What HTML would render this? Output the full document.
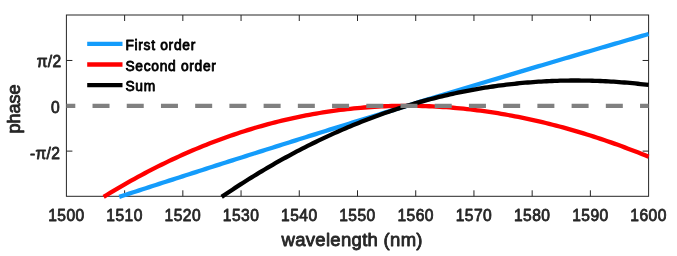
<!DOCTYPE html>
<html><head><meta charset="utf-8"><title>phase vs wavelength</title>
<style>
html,body{margin:0;padding:0;background:#fff;}
svg{display:block;will-change:transform;font-family:"Liberation Sans",sans-serif;font-weight:normal;}
text{stroke-linejoin:round;}
</style></head><body>
<svg width="677" height="256" viewBox="0 0 677 256">
<rect width="677" height="256" fill="#fff"/>
<g fill="none" stroke="#262626" stroke-width="1">
<rect x="66.4" y="15.0" width="582.20" height="181.30"/>
<path d="M124.62,196.3 v-6 M124.62,15.0 v6"/><path d="M182.84,196.3 v-6 M182.84,15.0 v6"/><path d="M241.06,196.3 v-6 M241.06,15.0 v6"/><path d="M299.28,196.3 v-6 M299.28,15.0 v6"/><path d="M357.50,196.3 v-6 M357.50,15.0 v6"/><path d="M415.72,196.3 v-6 M415.72,15.0 v6"/><path d="M473.94,196.3 v-6 M473.94,15.0 v6"/><path d="M532.16,196.3 v-6 M532.16,15.0 v6"/><path d="M590.38,196.3 v-6 M590.38,15.0 v6"/><path d="M66.4,151.12 h6 M648.6,151.12 h-6"/><path d="M66.4,105.80 h6 M648.6,105.80 h-6"/><path d="M66.4,60.47 h6 M648.6,60.47 h-6"/>
</g>
<g fill="none" stroke-width="4.3" stroke-linecap="butt" stroke-linejoin="round">
<path d="M119.23,196.90 L122.56,195.81 L125.89,194.72 L129.22,193.64 L132.55,192.55 L135.88,191.47 L139.21,190.38 L142.54,189.30 L145.87,188.22 L149.20,187.14 L152.53,186.06 L155.86,184.98 L159.19,183.90 L162.52,182.82 L165.85,181.74 L169.17,180.66 L172.50,179.59 L175.83,178.51 L179.16,177.44 L182.49,176.37 L185.82,175.29 L189.15,174.22 L192.48,173.15 L195.81,172.08 L199.14,171.01 L202.47,169.94 L205.80,168.87 L209.13,167.81 L212.46,166.74 L215.79,165.67 L219.11,164.61 L222.44,163.55 L225.77,162.48 L229.10,161.42 L232.43,160.36 L235.76,159.30 L239.09,158.24 L242.42,157.18 L245.75,156.12 L249.08,155.06 L252.41,154.01 L255.74,152.95 L259.07,151.90 L262.40,150.84 L265.73,149.79 L269.05,148.74 L272.38,147.68 L275.71,146.63 L279.04,145.58 L282.37,144.53 L285.70,143.48 L289.03,142.44 L292.36,141.39 L295.69,140.34 L299.02,139.30 L302.35,138.25 L305.68,137.21 L309.01,136.16 L312.34,135.12 L315.67,134.08 L319.00,133.04 L322.32,132.00 L325.65,130.96 L328.98,129.92 L332.31,128.88 L335.64,127.84 L338.97,126.81 L342.30,125.77 L345.63,124.74 L348.96,123.70 L352.29,122.67 L355.62,121.64 L358.95,120.61 L362.28,119.57 L365.61,118.54 L368.94,117.51 L372.26,116.49 L375.59,115.46 L378.92,114.43 L382.25,113.40 L385.58,112.38 L388.91,111.35 L392.24,110.33 L395.57,109.30 L398.90,108.28 L402.23,107.26 L405.56,106.24 L408.89,105.22 L412.22,104.21 L415.55,103.19 L418.88,102.18 L422.20,101.16 L425.53,100.15 L428.86,99.14 L432.19,98.13 L435.52,97.12 L438.85,96.11 L442.18,95.10 L445.51,94.09 L448.84,93.09 L452.17,92.08 L455.50,91.08 L458.83,90.07 L462.16,89.07 L465.49,88.06 L468.82,87.06 L472.14,86.06 L475.47,85.06 L478.80,84.06 L482.13,83.06 L485.46,82.06 L488.79,81.06 L492.12,80.06 L495.45,79.07 L498.78,78.07 L502.11,77.08 L505.44,76.08 L508.77,75.09 L512.10,74.09 L515.43,73.10 L518.76,72.11 L522.08,71.12 L525.41,70.13 L528.74,69.14 L532.07,68.15 L535.40,67.16 L538.73,66.18 L542.06,65.19 L545.39,64.20 L548.72,63.22 L552.05,62.23 L555.38,61.25 L558.71,60.27 L562.04,59.28 L565.37,58.30 L568.70,57.32 L572.03,56.34 L575.35,55.36 L578.68,54.38 L582.01,53.40 L585.34,52.43 L588.67,51.45 L592.00,50.47 L595.33,49.50 L598.66,48.52 L601.99,47.55 L605.32,46.58 L608.65,45.60 L611.98,44.63 L615.31,43.66 L618.64,42.69 L621.97,41.72 L625.29,40.75 L628.62,39.78 L631.95,38.82 L635.28,37.85 L638.61,36.88 L641.94,35.92 L645.27,34.95 L648.60,33.99" stroke="#149cfb"/>
<path d="M103.67,196.90 L107.10,194.78 L110.53,192.69 L113.95,190.63 L117.38,188.59 L120.81,186.58 L124.24,184.60 L127.66,182.64 L131.09,180.71 L134.52,178.80 L137.94,176.92 L141.37,175.06 L144.80,173.24 L148.23,171.43 L151.65,169.66 L155.08,167.91 L158.51,166.18 L161.94,164.48 L165.36,162.81 L168.79,161.16 L172.22,159.53 L175.64,157.94 L179.07,156.36 L182.50,154.82 L185.93,153.30 L189.35,151.80 L192.78,150.33 L196.21,148.88 L199.63,147.46 L203.06,146.06 L206.49,144.69 L209.92,143.34 L213.34,142.02 L216.77,140.72 L220.20,139.45 L223.63,138.20 L227.05,136.98 L230.48,135.78 L233.91,134.60 L237.33,133.45 L240.76,132.33 L244.19,131.22 L247.62,130.15 L251.04,129.09 L254.47,128.06 L257.90,127.06 L261.32,126.07 L264.75,125.12 L268.18,124.18 L271.61,123.27 L275.03,122.39 L278.46,121.52 L281.89,120.69 L285.31,119.87 L288.74,119.08 L292.17,118.31 L295.60,117.57 L299.02,116.84 L302.45,116.15 L305.88,115.47 L309.31,114.82 L312.73,114.19 L316.16,113.59 L319.59,113.00 L323.01,112.45 L326.44,111.91 L329.87,111.40 L333.30,110.91 L336.72,110.44 L340.15,109.99 L343.58,109.57 L347.00,109.17 L350.43,108.80 L353.86,108.44 L357.29,108.11 L360.71,107.80 L364.14,107.51 L367.57,107.25 L371.00,107.01 L374.42,106.79 L377.85,106.59 L381.28,106.41 L384.70,106.26 L388.13,106.13 L391.56,106.02 L394.99,105.93 L398.41,105.87 L401.84,105.82 L405.27,105.80 L408.69,105.80 L412.12,105.82 L415.55,105.87 L418.98,105.93 L422.40,106.02 L425.83,106.13 L429.26,106.25 L432.69,106.40 L436.11,106.58 L439.54,106.77 L442.97,106.98 L446.39,107.22 L449.82,107.47 L453.25,107.75 L456.68,108.05 L460.10,108.37 L463.53,108.71 L466.96,109.07 L470.38,109.45 L473.81,109.85 L477.24,110.27 L480.67,110.71 L484.09,111.18 L487.52,111.66 L490.95,112.17 L494.38,112.69 L497.80,113.24 L501.23,113.81 L504.66,114.39 L508.08,115.00 L511.51,115.62 L514.94,116.27 L518.37,116.94 L521.79,117.63 L525.22,118.33 L528.65,119.06 L532.07,119.81 L535.50,120.58 L538.93,121.36 L542.36,122.17 L545.78,123.00 L549.21,123.84 L552.64,124.71 L556.07,125.59 L559.49,126.50 L562.92,127.42 L566.35,128.37 L569.77,129.33 L573.20,130.31 L576.63,131.32 L580.06,132.34 L583.48,133.38 L586.91,134.44 L590.34,135.52 L593.76,136.62 L597.19,137.74 L600.62,138.87 L604.05,140.03 L607.47,141.20 L610.90,142.40 L614.33,143.61 L617.76,144.84 L621.18,146.09 L624.61,147.36 L628.04,148.65 L631.46,149.95 L634.89,151.28 L638.32,152.62 L641.75,153.98 L645.17,155.36 L648.60,156.76" stroke="#ff0000"/>
<path d="M221.67,196.90 L224.36,195.07 L227.04,193.26 L229.73,191.46 L232.42,189.68 L235.10,187.91 L237.79,186.16 L240.47,184.42 L243.16,182.70 L245.84,180.99 L248.53,179.30 L251.21,177.63 L253.90,175.97 L256.58,174.32 L259.27,172.70 L261.95,171.08 L264.64,169.48 L267.32,167.90 L270.01,166.33 L272.69,164.78 L275.38,163.24 L278.06,161.72 L280.75,160.21 L283.43,158.71 L286.12,157.24 L288.80,155.77 L291.49,154.33 L294.17,152.89 L296.86,151.47 L299.54,150.07 L302.23,148.68 L304.91,147.31 L307.60,145.95 L310.28,144.60 L312.97,143.27 L315.65,141.96 L318.34,140.66 L321.02,139.37 L323.71,138.10 L326.39,136.85 L329.08,135.60 L331.76,134.38 L334.45,133.16 L337.13,131.96 L339.82,130.78 L342.50,129.61 L345.19,128.46 L347.87,127.32 L350.56,126.19 L353.24,125.08 L355.93,123.98 L358.61,122.90 L361.30,121.83 L363.98,120.77 L366.67,119.73 L369.35,118.71 L372.04,117.69 L374.72,116.70 L377.41,115.71 L380.09,114.74 L382.78,113.79 L385.46,112.84 L388.15,111.92 L390.83,111.00 L393.52,110.10 L396.20,109.22 L398.89,108.35 L401.57,107.49 L404.26,106.64 L406.94,105.81 L409.63,105.00 L412.31,104.20 L415.00,103.42 L417.68,102.64 L420.37,101.89 L423.05,101.14 L425.74,100.41 L428.42,99.69 L431.11,98.99 L433.79,98.30 L436.48,97.62 L439.16,96.96 L441.85,96.31 L444.54,95.68 L447.22,95.05 L449.91,94.44 L452.59,93.85 L455.28,93.27 L457.96,92.70 L460.65,92.14 L463.33,91.60 L466.02,91.07 L468.70,90.55 L471.39,90.05 L474.07,89.56 L476.76,89.08 L479.44,88.62 L482.13,88.17 L484.81,87.73 L487.50,87.31 L490.18,86.90 L492.87,86.50 L495.55,86.12 L498.24,85.74 L500.92,85.38 L503.61,85.04 L506.29,84.70 L508.98,84.38 L511.66,84.08 L514.35,83.78 L517.03,83.50 L519.72,83.23 L522.40,82.98 L525.09,82.73 L527.77,82.50 L530.46,82.28 L533.14,82.08 L535.83,81.89 L538.51,81.71 L541.20,81.54 L543.88,81.38 L546.57,81.24 L549.25,81.11 L551.94,80.99 L554.62,80.89 L557.31,80.80 L559.99,80.72 L562.68,80.65 L565.36,80.60 L568.05,80.55 L570.73,80.52 L573.42,80.51 L576.10,80.50 L578.79,80.51 L581.47,80.53 L584.16,80.56 L586.84,80.60 L589.53,80.66 L592.21,80.73 L594.90,80.81 L597.58,80.90 L600.27,81.01 L602.95,81.12 L605.64,81.25 L608.32,81.40 L611.01,81.55 L613.69,81.71 L616.38,81.89 L619.06,82.08 L621.75,82.28 L624.43,82.50 L627.12,82.72 L629.80,82.96 L632.49,83.21 L635.17,83.47 L637.86,83.74 L640.54,84.03 L643.23,84.32 L645.91,84.63 L648.60,84.95" stroke="#000"/>
<path d="M66.4,105.9 H648.6" stroke="#808080" stroke-width="4.1" stroke-dasharray="17 17.22" stroke-dashoffset="8.1"/>
</g>
<g fill="#262626" stroke="#262626" stroke-width="0.78" font-size="15.6px" letter-spacing="0.45">
<text x="66.4" y="220.8" text-anchor="middle">1500</text><text x="124.6" y="220.8" text-anchor="middle">1510</text><text x="182.8" y="220.8" text-anchor="middle">1520</text><text x="241.1" y="220.8" text-anchor="middle">1530</text><text x="299.3" y="220.8" text-anchor="middle">1540</text><text x="357.5" y="220.8" text-anchor="middle">1550</text><text x="415.7" y="220.8" text-anchor="middle">1560</text><text x="473.9" y="220.8" text-anchor="middle">1570</text><text x="532.2" y="220.8" text-anchor="middle">1580</text><text x="590.4" y="220.8" text-anchor="middle">1590</text><text x="648.6" y="220.8" text-anchor="middle">1600</text>
<text x="61.4" y="67.2" text-anchor="end" letter-spacing="0.3">π/2</text>
<text x="60.0" y="113" text-anchor="end">0</text>
<text x="60.2" y="158.6" text-anchor="end" letter-spacing="0.3">-π/2</text>
</g>
<g fill="#262626" stroke="#262626" stroke-width="0.85" font-size="18.5px">
<text x="352.2" y="246.1" text-anchor="middle" letter-spacing="0.3">wavelength (nm)</text>
<text transform="translate(19.8,109) rotate(-90)" text-anchor="middle" font-size="18px">phase</text>
</g>
<g fill="none" stroke-width="4.3">
<path d="M87.2,43.9 H122.5" stroke="#149cfb"/>
<path d="M87.2,64.5 H122.5" stroke="#ff0000"/>
<path d="M87.2,85.2 H122.5" stroke="#000"/>
</g>
<g fill="#000" stroke="#000" stroke-width="0.8" font-size="13.8px" letter-spacing="0.7">
<text x="125.4" y="50.0">First order</text>
<text x="125.4" y="70.7">Second order</text>
<text x="125.4" y="91.4">Sum</text>
</g>
</svg>
</body></html>
